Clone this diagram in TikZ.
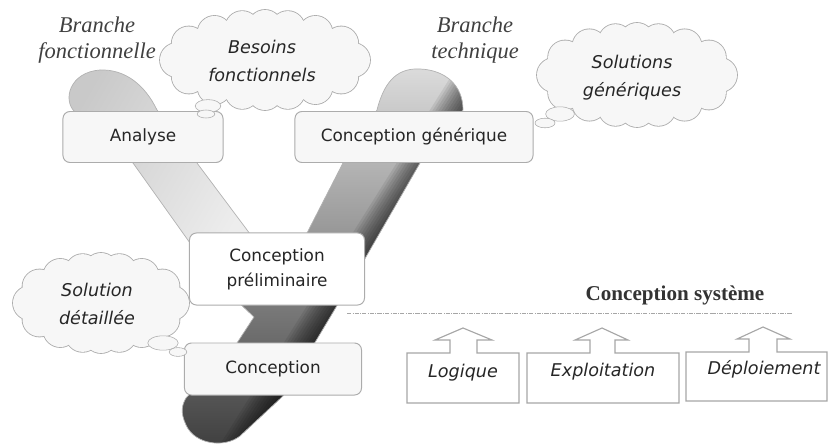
\documentclass[tikz,border=0pt]{standalone}
\usepackage{fontspec}
\setmainfont{Liberation Serif}
\newfontfamily\comicfont{DejaVu Sans}

\tikzset{
  etape/.style={draw=gray!65, line width=0.7pt, rounded corners=5pt, fill=gray!6,
    font=\comicfont\fontsize{12}{18}\selectfont, text=black!85, align=center, inner sep=0pt},
  bulletexte/.style={font=\comicfont\itshape\fontsize{12.5}{20}\selectfont, text=black!85, align=center},
  bord/.style={draw=gray!65, line width=1.2pt},
  fond/.style={fill=gray!6},
  branche/.style={font=\itshape\fontsize{16}{19}\selectfont, text=black!75, align=center},
  vue/.style={draw=gray!70, line width=0.8pt, fill=white},
  vuetexte/.style={font=\comicfont\itshape\fontsize{12.5}{14}\selectfont, text=black!85},
}

% cloud: centre x, centre y, x radius, y radius (pixels), puff radius
\newcommand{\nuage}[5]{%
  \foreach \a in {0,30,55,75,90,105,125,150,180,210,235,255,270,285,305,330}
    \draw[bord] ({#1+#3*cos(\a)},{#2+#4*sin(\a)}) circle (#5);
  \foreach \a in {0,30,55,75,90,105,125,150,180,210,235,255,270,285,305,330}
    \fill[fond] ({#1+#3*cos(\a)},{#2+#4*sin(\a)}) circle (#5);
  \fill[fond] (#1,#2) ellipse ({#3*0.025cm} and {#4*0.025cm});
}

\begin{document}
\begin{tikzpicture}[x=0.025cm, y=-0.025cm]
    \useasboundingbox (0,0) rectangle (828,446);
    % Branche technique (right arm of the V)
    \def\brasdroit{(343,163) -- (377,110) .. controls (385,78) and (400,68) .. (420,69)
        .. controls (445,70) and (463,85) .. (463,110) -- (420,163) -- (363,262)
        -- (283,396) -- (240,436) .. controls (225,448) and (195,445) .. (186,425)
        .. controls (180,412) and (182,405) .. (186,398) -- (237,343) -- (254,317)
        -- (236,300) -- (307,233) -- cycle}
    \begin{scope}
        \clip \brasdroit;
        \shade[top color=black!14, middle color=black!28, bottom color=black!75] (170,68) rectangle (470,446);
        % darker side of the arm
        \foreach \d in {3,6,...,33}
            \fill[black, opacity=0.075] (508,70) -- ({488-\d},70) -- ({252-\d},446) -- (272,446) -- cycle;
    \end{scope}
    \draw[gray!60, line width=0.5pt] \brasdroit;
    % Branche fonctionnelle (left arm of the V)
    \shade[draw=gray!60, line width=0.5pt, left color=gray!42, right color=gray!14, shading angle=60]
        (195,250) -- (133,163) -- (75,112) .. controls (62,100) and (70,72) .. (100,70)
        .. controls (125,69) and (145,85) .. (157,110) -- (197,163) -- (262,250) -- cycle;
    % Branch titles
    \node[branche] (titre-f) at (97,40) {Branche\\fonctionnelle};
    \node[branche] (titre-t) at (475,40) {Branche\\technique};
    % Steps of the V
    \node[etape, minimum width=4cm, minimum height=1.275cm] (analyse) at (143,137) {Analyse};
    \node[etape, minimum width=5.95cm, minimum height=1.275cm] (generique) at (414,137) {Conception générique};
    \node[etape, fill=white, minimum width=4.375cm, minimum height=1.8cm] (prelim) at (277,269) {Conception\\préliminaire};
    \node[etape, minimum width=4.425cm, minimum height=1.3cm] (detail) at (273,369) {Conception};
    % Thought clouds
    \nuage{265}{60}{88}{33}{0.425cm}
    \node[bulletexte] (besoins) at (262,61) {Besoins\\fonctionnels};
    \draw[draw=gray!65, fill=gray!6] (208,106) ellipse (0.32cm and 0.16cm);
    \draw[draw=gray!65, fill=gray!6] (206,114) ellipse (0.22cm and 0.1cm);
    \nuage{637}{75}{83}{35}{0.425cm}
    \node[bulletexte] (solutions) at (632,78) {Solutions\\génériques};
    \draw[draw=gray!65, fill=gray!6] (560,114) ellipse (0.36cm and 0.18cm);
    \draw[draw=gray!65, fill=gray!6] (545,123) ellipse (0.25cm and 0.12cm);
    \nuage{101}{303}{71}{33}{0.425cm}
    \node[bulletexte] (solution) at (97,304) {Solution\\détaillée};
    \draw[draw=gray!65, fill=gray!6] (163,343) ellipse (0.38cm and 0.18cm);
    \draw[draw=gray!65, fill=gray!6] (178,352) ellipse (0.22cm and 0.11cm);
    % Conception systeme
    \node[font=\bfseries\fontsize{15}{17}\selectfont, text=black!80] (systeme) at (675,295) {Conception système};
    \coordinate (sep-g) at (347,313);
    \coordinate (sep-d) at (793,313);
    \draw[gray!70, densely dashdotted, line width=0.7pt] (sep-g) -- (sep-d);
    % Views with their arrows
    \draw[vue] (407,403) -- (407,353) -- (450,353) -- (450,340) -- (435,340) -- (463,328)
        -- (492,340) -- (477,340) -- (477,353) -- (519,353) -- (519,403) -- cycle;
    \draw[vue] (527,403) -- (527,353) -- (590,353) -- (590,340) -- (575,340) -- (602,328)
        -- (628,340) -- (615,340) -- (615,353) -- (679,353) -- (679,403) -- cycle;
    \draw[vue] (686,401) -- (686,352) -- (749,352) -- (749,339) -- (737,339) -- (763,327)
        -- (790,339) -- (777,339) -- (777,352) -- (827,352) -- (827,401) -- cycle;
    \node[vuetexte] (logique) at (463,373) {Logique};
    \node[vuetexte] (exploitation) at (603,372) {Exploitation};
    \node[vuetexte] (deploiement) at (764,369) {Déploiement};
\end{tikzpicture}
\end{document}
